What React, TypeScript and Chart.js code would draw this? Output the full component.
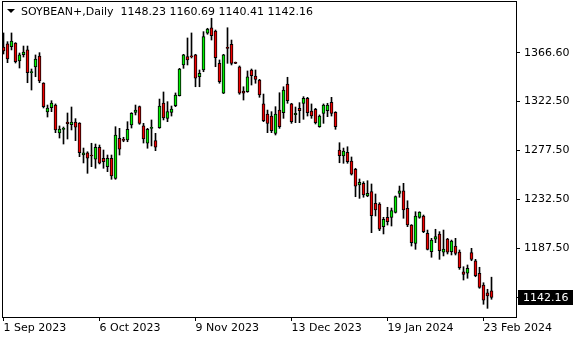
import { useEffect, useRef } from 'react';
import { Chart, registerables } from 'chart.js';

Chart.register(...registerables);

const symbolTitle = 'SOYBEAN+,Daily';
const firstDay = '2023-09-01';
const holidays = ['2023-09-04', '2023-12-25', '2024-01-01', '2024-01-15', '2024-02-19'];

const opens = [
  1372.1, 1374.9, 1372.4, 1375.8, 1359.3, 1365.0, 1369.4, 1348.5, 1353.7, 1363.8,
  1339.0, 1312.4, 1316.4, 1318.8, 1293.1, 1296.5, 1303.2, 1300.7, 1303.2, 1302.3,
  1272.9, 1275.0, 1272.9, 1269.0, 1280.0, 1269.9, 1262.2, 1269.9, 1251.5, 1288.3,
  1287.3, 1286.7, 1300.5, 1312.1, 1317.3, 1299.6, 1283.7, 1297.3, 1286.1, 1298.0,
  1320.7, 1306.6, 1312.1, 1318.2, 1327.4, 1355.6, 1363.2, 1364.1, 1364.8, 1344.8,
  1351.0, 1384.7, 1389.8, 1386.8, 1357.1, 1329.6, 1371.8, 1374.6, 1358.1, 1354.0,
  1331.7, 1331.1, 1351.0, 1345.5, 1341.8, 1319.8, 1310.6, 1308.7, 1292.8, 1314.2,
  1311.8, 1338.1, 1319.8, 1309.9, 1315.8, 1320.4, 1325.0, 1313.3, 1314.9, 1298.9,
  1311.2, 1313.6, 1321.3, 1312.1, 1277.5, 1272.0, 1275.4, 1267.4, 1259.8, 1245.4,
  1246.9, 1235.3, 1239.4, 1228.6, 1227.9, 1207.1, 1215.7, 1215.7, 1220.1, 1237.7,
  1239.9, 1224.0, 1208.6, 1191.8, 1215.7, 1216.9, 1201.0, 1184.1, 1195.5, 1200.4,
  1183.6, 1195.8, 1184.1, 1189.3, 1183.8, 1165.7, 1164.3, 1183.2, 1175.8, 1164.3,
  1153.5, 1146.4, 1148.23,
];

const highs = [
  1385.0, 1377.0, 1385.0, 1376.1, 1366.6, 1373.0, 1373.0, 1351.9, 1364.8, 1366.9,
  1339.3, 1318.8, 1322.8, 1319.8, 1299.6, 1298.6, 1311.5, 1317.0, 1306.3, 1302.6,
  1279.3, 1275.9, 1283.7, 1283.0, 1282.1, 1277.5, 1272.9, 1272.9, 1298.9, 1297.4,
  1289.2, 1303.5, 1311.8, 1318.8, 1317.9, 1302.0, 1297.4, 1305.1, 1292.8, 1324.3,
  1330.8, 1321.9, 1317.9, 1329.9, 1352.5, 1365.4, 1380.4, 1385.0, 1365.4, 1351.0,
  1386.2, 1389.3, 1398.5, 1387.7, 1360.2, 1365.4, 1389.8, 1378.5, 1358.3, 1354.7,
  1335.6, 1350.1, 1351.9, 1351.0, 1342.4, 1328.9, 1314.2, 1312.7, 1317.3, 1330.1,
  1335.6, 1344.3, 1320.4, 1317.0, 1321.0, 1326.5, 1325.9, 1319.8, 1315.8, 1309.7,
  1319.8, 1320.4, 1325.9, 1312.7, 1284.2, 1279.3, 1280.5, 1271.1, 1260.7, 1250.9,
  1248.4, 1249.3, 1246.3, 1237.1, 1229.1, 1215.7, 1224.9, 1224.2, 1235.3, 1244.4,
  1246.9, 1230.9, 1209.0, 1220.8, 1220.8, 1217.8, 1204.0, 1196.4, 1204.7, 1202.5,
  1204.0, 1196.4, 1194.8, 1196.4, 1185.7, 1170.3, 1171.9, 1187.2, 1177.1, 1169.8,
  1155.6, 1149.6, 1160.69,
];

const lows = [
  1365.7, 1357.7, 1369.4, 1357.4, 1352.8, 1362.9, 1339.3, 1332.6, 1344.8, 1339.3,
  1316.1, 1307.8, 1312.7, 1293.4, 1288.5, 1283.0, 1287.6, 1295.9, 1286.1, 1271.4,
  1265.6, 1256.1, 1262.2, 1260.7, 1264.7, 1260.7, 1257.6, 1250.6, 1250.6, 1272.9,
  1285.1, 1285.1, 1297.7, 1309.7, 1301.1, 1283.9, 1279.1, 1281.2, 1276.9, 1297.4,
  1305.1, 1303.5, 1308.7, 1317.3, 1327.1, 1352.5, 1355.6, 1362.0, 1335.6, 1335.6,
  1349.4, 1383.8, 1378.5, 1354.0, 1338.8, 1329.3, 1357.1, 1355.6, 1356.8, 1328.7,
  1323.4, 1330.5, 1337.2, 1338.8, 1325.9, 1303.5, 1293.4, 1293.4, 1291.3, 1297.4,
  1306.6, 1320.4, 1302.0, 1302.6, 1302.6, 1305.7, 1308.7, 1306.6, 1301.4, 1298.4,
  1302.0, 1308.1, 1308.7, 1296.5, 1265.8, 1265.3, 1265.3, 1254.5, 1234.6, 1233.1,
  1234.1, 1234.6, 1201.6, 1216.9, 1203.4, 1200.4, 1208.6, 1207.7, 1219.6, 1234.1,
  1214.8, 1207.1, 1189.3, 1186.3, 1214.8, 1201.6, 1185.7, 1179.0, 1192.4, 1177.1,
  1180.2, 1182.0, 1181.1, 1181.1, 1167.9, 1158.1, 1159.7, 1175.8, 1161.1, 1150.5,
  1135.8, 1132.1, 1140.41,
];

const closes = [
  1368.4, 1361.1, 1377.6, 1358.6, 1364.8, 1367.5, 1348.5, 1349.4, 1361.1, 1340.9,
  1317.3, 1316.1, 1320.7, 1295.9, 1296.8, 1297.4, 1301.7, 1303.2, 1298.4, 1275.0,
  1275.0, 1269.9, 1272.0, 1280.0, 1265.3, 1266.8, 1269.9, 1253.6, 1291.3, 1278.2,
  1286.4, 1296.5, 1311.2, 1314.2, 1302.0, 1287.6, 1296.5, 1298.2, 1280.0, 1317.9,
  1306.9, 1312.7, 1315.2, 1328.0, 1351.9, 1364.8, 1360.2, 1362.9, 1343.4, 1348.0,
  1381.6, 1388.6, 1382.5, 1362.3, 1340.2, 1364.8, 1370.9, 1357.1, 1357.1, 1329.6,
  1329.6, 1344.8, 1345.7, 1342.4, 1328.0, 1304.4, 1302.0, 1295.2, 1310.6, 1298.9,
  1332.6, 1322.8, 1303.5, 1311.2, 1313.6, 1325.0, 1311.8, 1308.7, 1302.6, 1308.7,
  1318.8, 1318.8, 1311.2, 1298.9, 1272.3, 1276.6, 1266.8, 1255.2, 1244.4, 1247.8,
  1236.2, 1237.7, 1217.1, 1222.4, 1204.7, 1213.9, 1211.7, 1221.8, 1234.8, 1239.9,
  1222.4, 1208.6, 1192.4, 1216.9, 1220.6, 1202.5, 1186.3, 1194.8, 1197.9, 1185.0,
  1186.6, 1183.6, 1193.9, 1182.6, 1169.4, 1163.3, 1168.9, 1177.1, 1162.1, 1151.4,
  1139.7, 1143.4, 1142.16,
];

const xTickLabels = ['1 Sep 2023', '6 Oct 2023', '9 Nov 2023', '13 Dec 2023', '19 Jan 2024', '23 Feb 2024'];
const yTickValues = [1366.6, 1322.5, 1277.5, 1232.5, 1187.5];
const yMin = 1124.13;
const yMax = 1414.35;

const MONTHS = ['Jan', 'Feb', 'Mar', 'Apr', 'May', 'Jun', 'Jul', 'Aug', 'Sep', 'Oct', 'Nov', 'Dec'];

function tradingDays(startISO: string, n: number, skip: string[]): string[] {
  const out: string[] = [];
  const d = new Date(startISO + 'T00:00:00Z');
  while (out.length < n) {
    const dow = d.getUTCDay();
    const iso = d.toISOString().slice(0, 10);
    if (dow !== 0 && dow !== 6 && !skip.includes(iso)) {
      out.push(`${d.getUTCDate()} ${MONTHS[d.getUTCMonth()]} ${d.getUTCFullYear()}`);
    }
    d.setUTCDate(d.getUTCDate() + 1);
  }
  return out;
}

const dates = tradingDays(firstDay, opens.length, holidays);
const xTickIdx = xTickLabels.map((l) => dates.indexOf(l));

const BULL = '#00f000';
const BEAR = '#f00000';
const FONT = '"DejaVu Sans", sans-serif';

export default function App() {
  const ref = useRef<HTMLCanvasElement | null>(null);

  useEffect(() => {
    if (!ref.current) return;
    const n = opens.length;
    const last = n - 1;
    const lastClose = closes[last];
    const titleText = `${symbolTitle}  ${opens[last].toFixed(2)} ${highs[last].toFixed(2)} ${lows[last].toFixed(2)} ${closes[last].toFixed(2)}`;

    const overlay = {
      id: 'mtOverlay',
      afterDraw(chart: any) {
        const { ctx, chartArea: a } = chart;
        const y = chart.scales.y;
        ctx.save();
        ctx.strokeStyle = '#000';
        ctx.lineWidth = 1;
        ctx.strokeRect(a.left + 0.5, a.top + 0.5, a.right - a.left, a.bottom - a.top);
        ctx.fillStyle = '#000';
        ctx.beginPath();
        ctx.moveTo(7, 9);
        ctx.lineTo(15, 9);
        ctx.lineTo(11, 13);
        ctx.closePath();
        ctx.fill();
        ctx.font = `11px ${FONT}`;
        ctx.textBaseline = 'middle';
        ctx.textAlign = 'left';
        ctx.fillText(titleText, 21, 12);
        const py = Math.round(y.getPixelForValue(lastClose));
        ctx.fillRect(a.right + 2, py - 7, 55, 15);
        ctx.fillStyle = '#fff';
        ctx.fillText(lastClose.toFixed(2), a.right + 7, py + 1);
        ctx.restore();
      },
    };

    const chart = new Chart(ref.current, {
      type: 'bar',
      data: {
        datasets: [
          {
            label: 'body',
            data: dates.map((_, i) => ({ x: i, y: [opens[i], closes[i]] })) as any,
            backgroundColor: (c: any) => (closes[c.dataIndex] >= opens[c.dataIndex] ? BULL : BEAR),
            borderColor: '#000',
            borderWidth: 1,
            borderSkipped: false,
            barThickness: 3,
            minBarLength: 1,
            grouped: false,
            order: 0,
          } as any,
          {
            label: 'wick',
            data: dates.map((_, i) => ({ x: i, y: [lows[i], highs[i]] })) as any,
            backgroundColor: '#000',
            borderWidth: 0,
            barThickness: 1,
            grouped: false,
            order: 1,
          } as any,
        ],
      },
      options: {
        animation: false,
        responsive: false,
        maintainAspectRatio: false,
        events: [],
        layout: { padding: { left: 2, top: 1, right: 0, bottom: 0 } },
        plugins: { legend: { display: false }, tooltip: { enabled: false }, title: { display: false } },
        scales: {
          x: {
            type: 'linear',
            min: -0.375,
            max: 128.125,
            offset: false,
            afterBuildTicks: (s: any) => {
              s.ticks = xTickIdx.map((v) => ({ value: v }));
            },
            afterFit: (s: any) => {
              s.height = 23;
              s.paddingLeft = 0;
              s.paddingRight = 0;
            },
            grid: { display: true, offset: false, drawOnChartArea: false, drawTicks: true, tickLength: 4, color: '#000' },
            border: { display: false },
            ticks: {
              autoSkip: false,
              maxRotation: 0,
              align: 'start',
              padding: 1,
              color: '#000',
              font: { family: FONT, size: 11 },
              callback: (v: any) => {
                const i = xTickIdx.indexOf(Number(v));
                return i >= 0 ? xTickLabels[i] : '';
              },
            },
          } as any,
          y: {
            type: 'linear',
            position: 'right',
            min: yMin,
            max: yMax,
            afterBuildTicks: (s: any) => {
              s.ticks = [...yTickValues, lastClose].map((v) => ({ value: v }));
            },
            afterFit: (s: any) => {
              s.width = 64;
              s.paddingTop = 0;
              s.paddingBottom = 0;
            },
            grid: { display: true, drawOnChartArea: false, drawTicks: true, tickLength: 4, color: '#000' },
            border: { display: false },
            ticks: {
              autoSkip: false,
              padding: 4,
              color: '#000',
              font: { family: FONT, size: 11 },
              callback: (v: any) => (Number(v) === lastClose ? '' : Number(v).toFixed(2)),
            },
          } as any,
        },
      },
      plugins: [overlay],
    });

    return () => chart.destroy();
  }, []);

  return (
    <div style={{ position: 'fixed', left: 0, top: 0, width: 580, height: 340, background: '#fff' }}>
      <canvas ref={ref} width={580} height={340} style={{ width: 580, height: 340, display: 'block' }} />
    </div>
  );
}
